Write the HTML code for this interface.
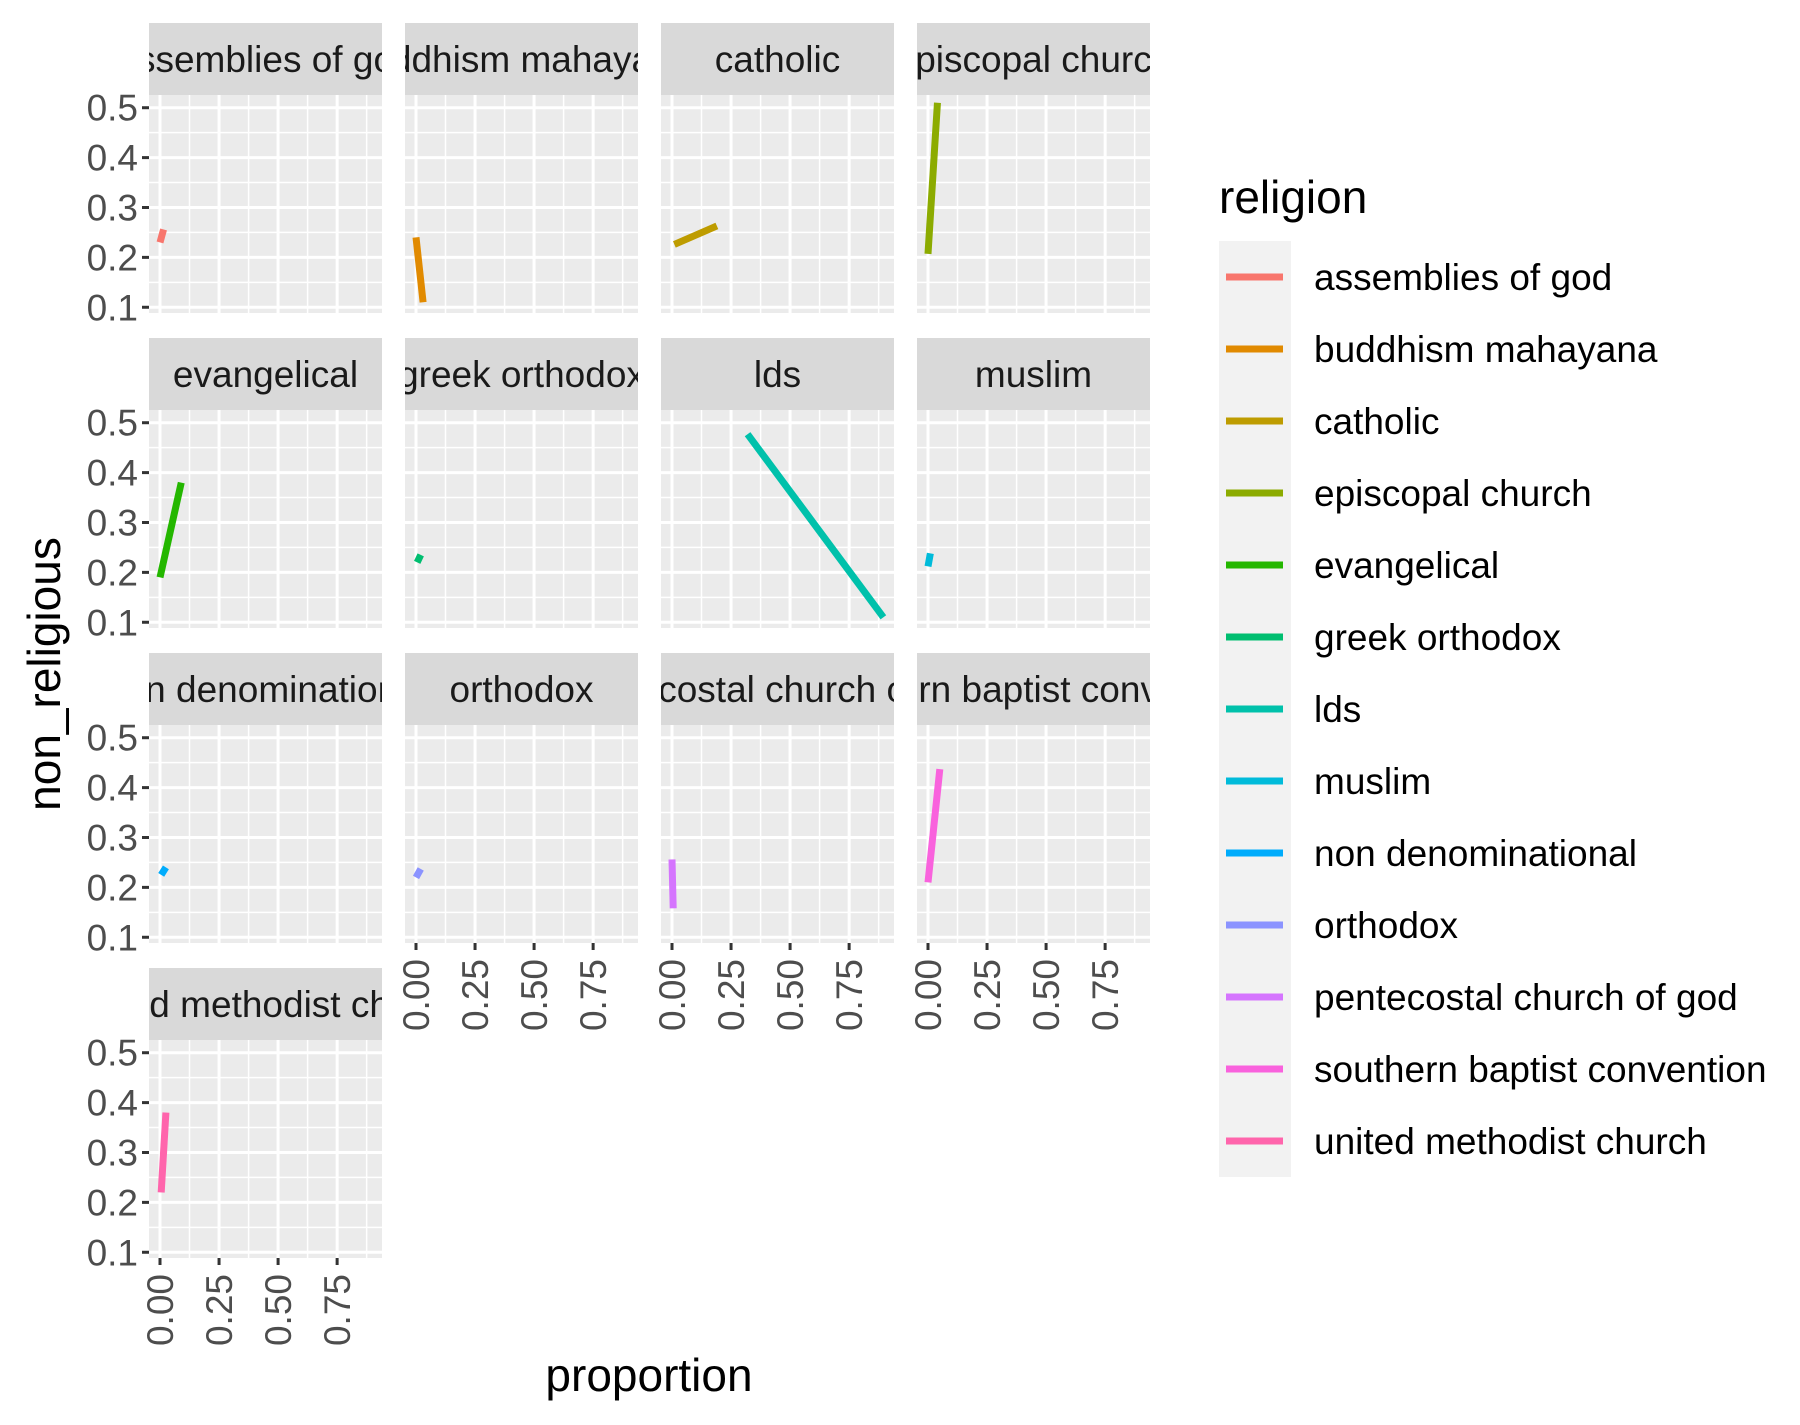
<!DOCTYPE html>
<html><head><meta charset="utf-8"><style>
html,body{margin:0;padding:0;background:#fff}
svg{display:block;font-family:"Liberation Sans",sans-serif}
</style></head><body>
<svg id="chart" width="1800" height="1425" viewBox="0 0 1800 1425" xmlns="http://www.w3.org/2000/svg"></svg>
<script>
const religions = ["assemblies of god","buddhism mahayana","catholic","episcopal church","evangelical","greek orthodox","lds","muslim","non denominational","orthodox","pentecostal church of god","southern baptist convention","united methodist church"];
const colors = ["#F8766D","#E18A00","#BE9C00","#8CAB00","#24B700","#00BE70","#00C1AB","#00BBDA","#00ACFC","#8B93FF","#D575FE","#F962DD","#FF65AC"];
const startProportion = [0.00,0.00,0.01,0.00,0.00,0.005,0.32,0.00,0.005,0.00,0.005,0.00,0.005];
const endProportion   = [0.015,0.03,0.19,0.04,0.09,0.02,0.895,0.01,0.025,0.02,0.00,0.05,0.025];
const startNonReligious = [0.23,0.24,0.226,0.207,0.19,0.22,0.477,0.212,0.225,0.22,0.158,0.21,0.22];
const endNonReligious   = [0.256,0.11,0.263,0.51,0.38,0.235,0.11,0.238,0.24,0.237,0.256,0.437,0.38];
const yTicks = [0.1,0.2,0.3,0.4,0.5];
const yTickLabels = ["0.1","0.2","0.3","0.4","0.5"];
const xTicks = [0,0.25,0.5,0.75];
const xTickLabels = ["0.00","0.25","0.50","0.75"];

const NS="http://www.w3.org/2000/svg";
const svg=document.getElementById('chart');
function mk(tag,attrs,parent){const e=document.createElementNS(NS,tag);for(const k in attrs)e.setAttribute(k,attrs[k]);(parent||svg).appendChild(e);return e;}

const FS=37, TFS=46;
const PW=233, PH=218, SH=72, colX=[149,405,661,917], rowY=[23,338,653,968];
const XMIN=-0.0466, XMAX=0.94, YMIN=0.0885, YMAX=0.5255;
function sx(v,x0){return x0+(v-XMIN)/(XMAX-XMIN)*PW;}
function sy(v,y0){return y0+PH-(v-YMIN)/(YMAX-YMIN)*PH;}

const defs=mk('defs',{});
religions.forEach((r,i)=>{
  const col=i%4,row=Math.floor(i/4);
  const x0=colX[col], st=rowY[row], y0=st+SH;
  const g=mk('g',{});
  
  
  const cp=mk('clipPath',{id:'clip'+i},defs);
  mk('rect',{x:x0,y:st,width:PW,height:SH},cp);
  const strip=mk('rect',{x:x0,y:st,width:PW,height:SH,fill:'#D9D9D9'},g);
  
  
  const stx=mk('text',{x:x0+PW/2,y:st+SH/2+13,'text-anchor':'middle','font-size':FS,fill:'#1A1A1A','clip-path':'url(#clip'+i+')'},g);
  stx.textContent=r;
  
  
  const bg=mk('rect',{x:x0,y:y0,width:PW,height:PH,fill:'#EBEBEB'},g);
  
  
  for(let k=0;k<xTicks.length;k++){const v=xTicks[k]+0.125;const xx=sx(v,x0);if(xx<x0+PW)mk('line',{x1:xx,x2:xx,y1:y0,y2:y0+PH,stroke:'#fff','stroke-width':1.5},g);}
  for(let k=0;k<yTicks.length;k++){const v=yTicks[k]+0.05;if(v<YMAX)mk('line',{x1:x0,x2:x0+PW,y1:sy(v,y0),y2:sy(v,y0),stroke:'#fff','stroke-width':1.5},g);}
  xTicks.forEach(v=>{const xx=sx(v,x0);mk('line',{x1:xx,x2:xx,y1:y0,y2:y0+PH,stroke:'#fff','stroke-width':3},g);});
  yTicks.forEach(v=>{const yy=sy(v,y0);mk('line',{x1:x0,x2:x0+PW,y1:yy,y2:yy,stroke:'#fff','stroke-width':3},g);});
  const ln=mk('line',{x1:sx(startProportion[i],x0),y1:sy(startNonReligious[i],y0),x2:sx(endProportion[i],x0),y2:sy(endNonReligious[i],y0),stroke:colors[i],'stroke-width':7},g);
  
  
  if(col===0){
    yTicks.forEach((v,k)=>{const yy=sy(v,y0);
      mk('line',{x1:x0-7,x2:x0,y1:yy,y2:yy,stroke:'#333','stroke-width':3},g);
      const t=mk('text',{x:x0-11,y:yy+13,'text-anchor':'end','font-size':FS,fill:'#4D4D4D'},g);
      t.textContent=yTickLabels[k];
      
      
    });
  }
  const bottom=(row===3)||(row===2&&col>0);
  if(bottom){
    xTicks.forEach((v,k)=>{const xx=sx(v,x0);
      mk('line',{x1:xx,x2:xx,y1:y0+PH,y2:y0+PH+7,stroke:'#333','stroke-width':3},g);
      const t=mk('text',{x:0,y:0,'text-anchor':'end','font-size':FS,fill:'#4D4D4D',transform:'translate('+(xx+13)+','+(y0+PH+16)+') rotate(-90)'},g);
      t.textContent=xTickLabels[k];
      
      
    });
  }
});
const yt=mk('text',{x:0,y:0,'text-anchor':'middle','font-size':TFS,fill:'#000',transform:'translate(60,674) rotate(-90)'});
yt.textContent='non_religious';


const xt=mk('text',{x:649,y:1391,'text-anchor':'middle','font-size':TFS,fill:'#000'});
xt.textContent='proportion';


const lg=mk('g',{});


const lt=mk('text',{x:1219,y:213,'font-size':TFS,fill:'#000'},lg);
lt.textContent='religion';


mk('rect',{x:1219,y:241,width:72,height:936,fill:'#F2F2F2'},lg);
religions.forEach((r,i)=>{
  const yy=277+i*72;
  const e=mk('g',{},lg);
  
  
  mk('line',{x1:1226,x2:1283,y1:yy,y2:yy,stroke:colors[i],'stroke-width':7},e);
  const t=mk('text',{x:1314,y:yy+13,'font-size':FS,fill:'#000'},e);
  t.textContent=r;
});
</script>
</body></html>
